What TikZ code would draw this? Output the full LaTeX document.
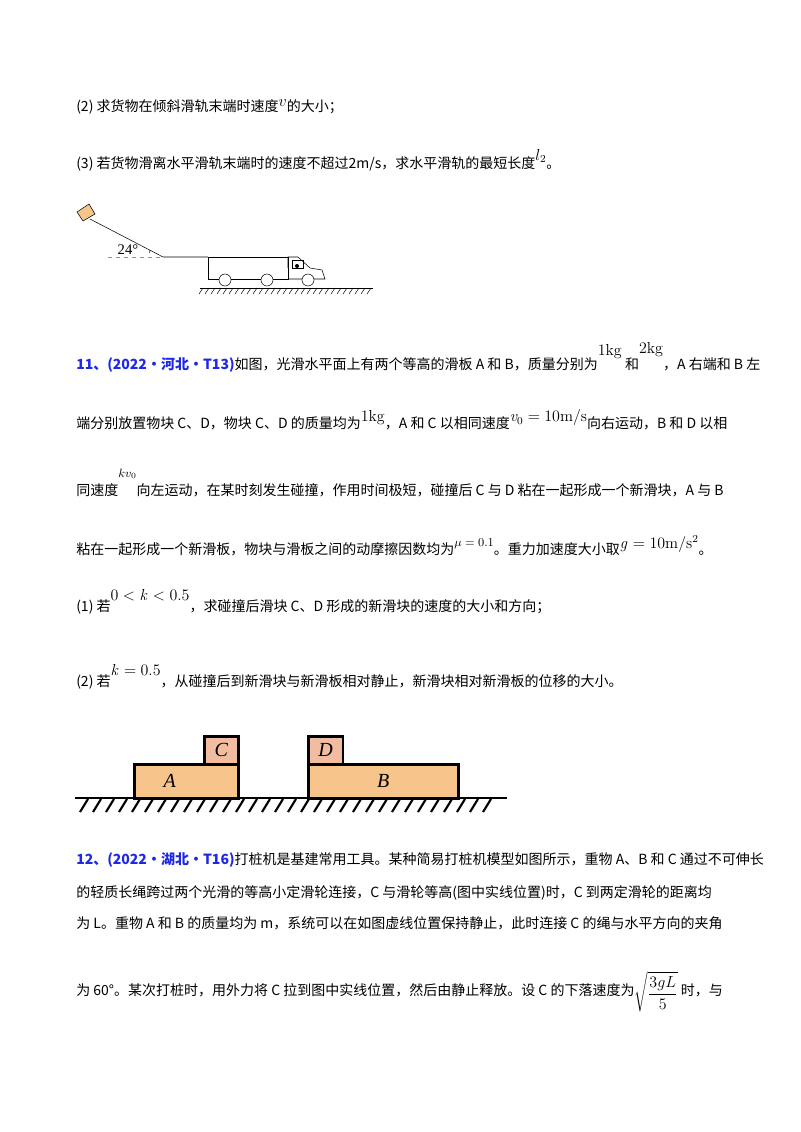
\documentclass[tikz,border=0pt]{standalone}
\usepackage[no-math]{fontspec}
\setmainfont{Noto Sans CJK SC}
\newfontfamily\serif{Liberation Serif}
\usepackage{tikz}
\usetikzlibrary{positioning, arrows.meta}
\definecolor{qblue}{RGB}{30,40,230}
\definecolor{plank}{RGB}{247,196,140}
\definecolor{cube}{RGB}{242,188,160}
\newcommand{\up}[2]{\raisebox{#1}{#2}}
\newcommand{\mth}[1]{{\fontsize{12}{12}\selectfont$\mathrm{#1}$}}
\begin{document}
\begin{tikzpicture}[
    x=0.75pt, y=-0.75pt,
    line/.style={anchor=west, inner sep=0pt, font=\fontsize{10.5}{12}\selectfont},
    blk/.style={draw, line width=2pt, inner sep=0pt, anchor=north west, font=\fontsize{15}{15}\selectfont\serif\itshape},
    wheel/.style={draw, circle, minimum size=9pt, inner sep=0pt},
]
\fill[white] (0,0) rectangle (800,1132);
\useasboundingbox (0,0) rectangle (800,1132);

% Question text, part 10
\node[line] (q2) at (76,107) {(2) 求货物在倾斜滑轨末端时速度\up{4pt}{\fontsize{13}{13}\selectfont$v$}的大小；};
\node[line] (q3) at (76,160) {(3) 若货物滑离水平滑轨末端时的速度不超过2m/s，求水平滑轨的最短长度\up{6pt}{\fontsize{12}{12}\selectfont$l_2$}。};

% Figure: slide and truck
\coordinate (top) at (90,219);
\coordinate (foot) at (163,257);
\draw (top) -- (foot) -- (208,257);
\draw[cyan!60!gray, dashed] (108,257) -- (foot);
\draw[fill=plank] (77,212) -- (89,204) -- (95,214) -- (83,221) -- cycle;
\draw (150,250) arc (200:180:8);
\node[font=\fontsize{11}{11}\selectfont\serif] (ang) at (128,250) {24°};
\draw (208,257) rectangle (288,279);
\draw (288,268) -- (288,257) -- (298,257) -- (310,268) -- (322,270) -- (325,279) -- (288,279);
\draw (292,260) rectangle (303,268);
\fill (297,266) circle (2);
\foreach \wx/\wn in {225/w1, 267/w2, 308/w3}
  \node[wheel, fill=white] (\wn) at (\wx,280) {};
\draw (200,288) -- (373,288);
\foreach \hx in {203,209,...,371}
  \draw (\hx,288) -- (\hx-4,294);

% Question 11
\node[line] (q11a) at (76,357) {{\color{qblue}\bfseries 11、(2022·河北·T13)}如图，光滑水平面上有两个等高的滑板 A 和 B，质量分别为\up{10pt}{\mth{1kg}} 和\up{12pt}{\mth{2kg}}，A 右端和 B 左};
\node[line] (q11b) at (76,420) {端分别放置物块 C、D，物块 C、D 的质量均为\up{5pt}{\mth{1kg}}，A 和 C 以相同速度\up{5pt}{\mth{{\it v}_0=10m/s}}向右运动，B 和 D 以相};
\node[line] (q11c) at (76,483) {同速度\up{14pt}{\small$kv_0$}向左运动，在某时刻发生碰撞，作用时间极短，碰撞后 C 与 D 粘在一起形成一个新滑块，A 与 B};
\node[line] (q11d) at (76,546) {粘在一起形成一个新滑板，物块与滑板之间的动摩擦因数均为\up{6pt}{\small$\mu=0.1$}。重力加速度大小取\up{5pt}{\mth{{\it g}=10m/s^2}}。};
\node[line] (q11e) at (76,602) {(1) 若\up{8pt}{\mth{0<{\it k}<0.5}}，求碰撞后滑块 C、D 形成的新滑块的速度的大小和方向；};
\node[line] (q11f) at (76,677) {(2) 若\up{8pt}{\mth{{\it k}=0.5}}，从碰撞后到新滑块与新滑板相对静止，新滑块相对新滑板的位移的大小。};

% Figure: two planks
\node[blk, fill=plank, minimum width=78pt, minimum height=25.5pt] (A) at (133,763) {\hspace*{-25pt}A};
\node[blk, fill=cube, minimum width=25.5pt, minimum height=21pt] (C) at (203,735) {C};
\node[blk, fill=plank, minimum width=112.5pt, minimum height=25.5pt] (B) at (307,763) {B};
\node[blk, fill=cube, minimum width=26pt, minimum height=21pt] (D) at (307,735) {D};
\draw[line width=2pt] (75,798) -- (507,798);
\foreach \hx in {88,101,...,500}
  \draw[line width=1.6pt] (\hx,799) -- (\hx-8,812);

% Question 12
\node[line] (q12a) at (76,860) {{\color{qblue}\bfseries 12、(2022·湖北·T16)}打桩机是基建常用工具。某种简易打桩机模型如图所示，重物 A、B 和 C 通过不可伸长};
\node[line] (q12b) at (76,893) {的轻质长绳跨过两个光滑的等高小定滑轮连接，C 与滑轮等高(图中实线位置)时，C 到两定滑轮的距离均};
\node[line] (q12c) at (76,923) {为 \textit{L}。重物 A 和 B 的质量均为 \textit{m}，系统可以在如图虚线位置保持静止，此时连接 C 的绳与水平方向的夹角};
\node[line] (q12d) at (76,992) {为 60°。某次打桩时，用外力将 C 拉到图中实线位置，然后由静止释放。设 C 的下落速度为\up{-2pt}{\fontsize{12}{12}\selectfont$\sqrt{\displaystyle\frac{3gL}{5}}$} 时，与};
\end{tikzpicture}
\end{document}
